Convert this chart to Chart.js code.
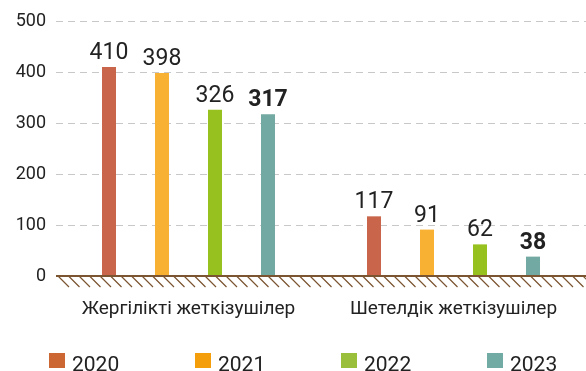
<!DOCTYPE html>
<html>
<head>
<meta charset="utf-8">
<script src="https://cdn.jsdelivr.net/npm/chart.js@4"></script>
<style>
  html, body { margin: 0; padding: 0; background: #fff; }
  #wrap { width: 586px; height: 371px; }
</style>
</head>
<body>
<div id="wrap"><canvas id="myChart"></canvas></div>
<script>
const categories = ['Жергілікті жеткізушілер', 'Шетелдік жеткізушілер'];
const years = ['2020', '2021', '2022', '2023'];
const values2020 = [410, 117];
const values2021 = [398, 91];
const values2022 = [326, 62];
const values2023 = [317, 38];
const yTicks = [0, 100, 200, 300, 400, 500];

const barColors = ['#c8654a', '#f8b133', '#96c11f', '#72a9a2'];
const legendColors = ['#cc6633', '#f59e0b', '#99bf3b', '#72aaa4'];
const fontFamily = 'Roboto, "Liberation Sans", sans-serif';
const textColor = '#222';

// ground line with diagonal hatching under zero
const groundPlugin = {
  id: 'ground',
  afterDatasetsDraw(chart) {
    const ctx = chart.ctx;
    const area = chart.chartArea;
    const y0 = chart.scales.y.getPixelForValue(0);
    ctx.save();
    ctx.strokeStyle = '#7b5431';
    ctx.lineWidth = 1.2;
    ctx.beginPath();
    for (let x = area.left + 2; x < area.right; x += 10.5) {
      ctx.moveTo(x, y0);
      ctx.lineTo(x + 11, y0 + 11);
    }
    ctx.stroke();
    ctx.lineWidth = 2;
    ctx.beginPath();
    ctx.moveTo(area.left, y0);
    ctx.lineTo(area.right, y0);
    ctx.stroke();
    ctx.restore();
  }
};

// dashed horizontal grid lines
const dashedGrid = {
  id: 'dashedGrid',
  beforeDatasetsDraw(chart) {
    const ctx = chart.ctx;
    const area = chart.chartArea;
    const y = chart.scales.y;
    ctx.save();
    ctx.strokeStyle = '#c8c8c8';
    ctx.lineWidth = 1;
    ctx.setLineDash([7, 5]);
    yTicks.forEach(v => {
      if (v === 0) return;
      const py = Math.round(y.getPixelForValue(v)) + 0.5;
      ctx.beginPath();
      ctx.moveTo(area.left, py);
      ctx.lineTo(area.right, py);
      ctx.stroke();
    });
    ctx.restore();
  }
};

// numbers above each bar, last year in bold
const valueLabels = {
  id: 'valueLabels',
  afterDatasetsDraw(chart) {
    const ctx = chart.ctx;
    ctx.save();
    ctx.fillStyle = textColor;
    ctx.textAlign = 'center';
    ctx.textBaseline = 'alphabetic';
    chart.data.datasets.forEach((ds, i) => {
      const meta = chart.getDatasetMeta(i);
      const bold = i === chart.data.datasets.length - 1;
      ctx.font = (bold ? 'bold ' : '') + '23px ' + fontFamily;
      meta.data.forEach((bar, j) => {
        ctx.fillText(ds.data[j], bar.x, bar.y - 8);
      });
    });
    ctx.restore();
  }
};

// legend row at the bottom
const legendRow = {
  id: 'legendRow',
  afterDraw(chart) {
    const ctx = chart.ctx;
    ctx.save();
    ctx.font = '21px ' + fontFamily;
    ctx.textBaseline = 'alphabetic';
    ctx.textAlign = 'left';
    chart.data.datasets.forEach((ds, i) => {
      const x = 49 + i * 146;
      ctx.fillStyle = legendColors[i];
      ctx.fillRect(x, 353, 16, 15);
      ctx.fillStyle = textColor;
      ctx.fillText(ds.label, x + 23, 371);
    });
    ctx.restore();
  }
};

const data = {
  labels: categories,
  datasets: [values2020, values2021, values2022, values2023].map((vals, i) => ({
    label: years[i],
    data: vals,
    backgroundColor: barColors[i],
    barPercentage: 0.264,
    categoryPercentage: 0.8
  }))
};

const config = {
  type: 'bar',
  data: data,
  options: {
    responsive: true,
    maintainAspectRatio: false,
    animation: false,
    layout: { padding: { top: 21, left: 15, right: 0, bottom: 50 } },
    plugins: {
      legend: { display: false },
      tooltip: { enabled: false }
    },
    scales: {
      x: {
        afterFit(scale) { scale.height = 45; },
        grid: { display: false, drawTicks: false },
        border: { display: false },
        ticks: {
          color: textColor,
          font: { family: fontFamily, size: 19 },
          padding: 22
        }
      },
      y: {
        min: 0,
        max: 500,
        afterFit(scale) { scale.width = 41; },
        afterBuildTicks(scale) {
          scale.ticks = yTicks.map(v => ({ value: v }));
        },
        grid: { display: false, drawTicks: false },
        border: { display: false },
        ticks: {
          color: textColor,
          font: { family: fontFamily, size: 18 },
          padding: 10
        }
      }
    }
  },
  plugins: [dashedGrid, groundPlugin, valueLabels, legendRow]
};

const myChart = new Chart(document.getElementById('myChart'), config);
</script>
</body>
</html>
